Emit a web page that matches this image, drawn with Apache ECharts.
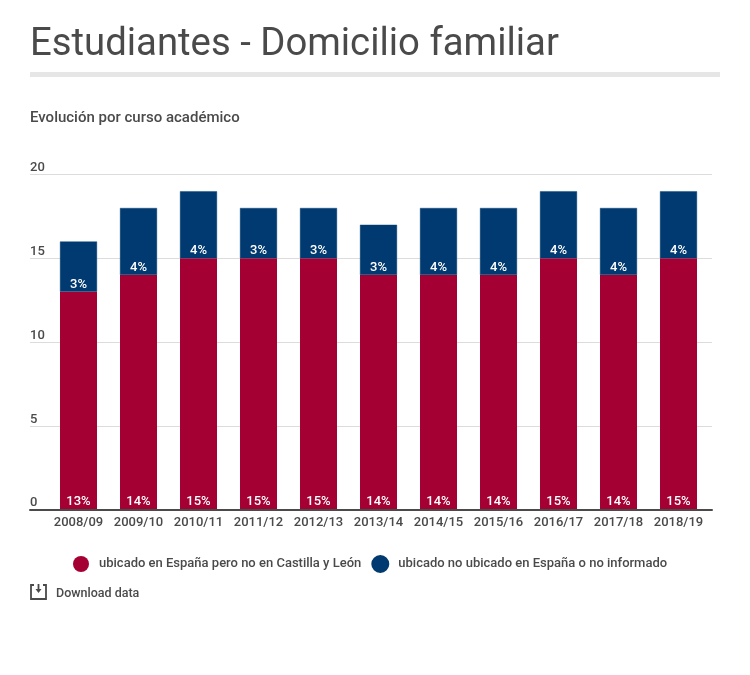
<!DOCTYPE html>
<html><head><meta charset="utf-8">
<style>html,body{margin:0;padding:0;background:#fff}#c{width:750px;height:675px}</style>
<script src="https://cdn.jsdelivr.net/npm/echarts@6/dist/echarts.min.js"></script>
</head><body><div id="c"></div>
<script>
const categories = ['2008/09','2009/10','2010/11','2011/12','2012/13','2013/14','2014/15','2015/16','2016/17','2017/18','2018/19'];
const ubicadoEspana = [13,14,15,15,15,14,14,14,15,14,15];
const ubicadoNoInformado = [3,4,4,3,3,3,4,4,4,4,4];
const yTicks = {min:0,max:20,interval:5};
const titleText = 'Estudiantes - Domicilio familiar';
const subtitleText = 'Evolución por curso académico';
const seriesNames = ['ubicado en España pero no en Castilla y León','ubicado no ubicado en España o no informado'];
const FONT = 'Roboto', TXT = '#4a4a4a';
const label = {show:true,position:'insideBottom',distance:1,color:'#fff',fontFamily:FONT,fontSize:13,fontWeight:500,formatter:p=>p.value+'%'};
const chart = echarts.init(document.getElementById('c'),null,{renderer:'canvas'});
chart.setOption({
  animation:false,
  backgroundColor:'#fff',
  textStyle:{fontFamily:FONT},
  title:[
    {text:titleText,left:30,top:26,padding:0,textStyle:{fontFamily:FONT,fontSize:38.3,fontWeight:400,color:TXT}},
    {text:subtitleText,left:30,top:111,padding:0,textStyle:{fontFamily:FONT,fontSize:15,fontWeight:500,color:TXT}}
  ],
  legend:{left:73,top:555,padding:0,itemWidth:16,itemHeight:16,itemGap:10,icon:'circle',
    textStyle:{fontFamily:FONT,fontSize:13,fontWeight:500,color:TXT,padding:[1,0,0,5]}},
  grid:[
    {left:48.5,right:41.5,top:174.5,height:335},
    {left:30,right:38,top:174.5,height:335}
  ],
  xAxis:[
    {type:'category',gridIndex:0,data:categories,axisLine:{show:false},axisTick:{show:false},
      axisLabel:{color:TXT,fontFamily:FONT,fontSize:13,fontWeight:500,margin:6.5,interval:0}},
    {type:'value',gridIndex:1,min:0,max:1,axisLine:{show:true,onZero:false,lineStyle:{color:TXT,width:2}},axisTick:{show:false},axisLabel:{show:false},splitLine:{show:false},z:5}
  ],
  yAxis:[
    {type:'value',gridIndex:0,min:yTicks.min,max:yTicks.max,interval:yTicks.interval,axisLine:{show:false},axisTick:{show:false},axisLabel:{show:false},splitLine:{show:false}},
    {type:'value',gridIndex:1,min:yTicks.min,max:yTicks.max,interval:yTicks.interval,axisLine:{show:false},axisTick:{show:false},
      axisLabel:{inside:true,margin:0,verticalAlign:'bottom',lineHeight:13,color:TXT,fontFamily:FONT,fontSize:13,fontWeight:500},
      splitLine:{show:true,lineStyle:{color:'#dcdcdc',width:1}}}
  ],
  series:[
    {name:seriesNames[0],type:'bar',stack:'t',xAxisIndex:0,yAxisIndex:0,barWidth:37,data:ubicadoEspana,itemStyle:{color:'#a50034'},label,z:3},
    {name:seriesNames[1],type:'bar',stack:'t',xAxisIndex:0,yAxisIndex:0,barWidth:37,data:ubicadoNoInformado,itemStyle:{color:'#003a70',borderColor:'#003a70',borderWidth:0.4},label,z:3}
  ],
  graphic:[
    {type:'rect',shape:{x:30,y:72,width:690,height:5},style:{fill:'#e6e6e6'},silent:true},
    {type:'polyline',shape:{points:[[34,585],[31,585],[31,599],[46,599],[46,585],[43,585]]},style:{fill:null,stroke:TXT,lineWidth:1.8},silent:true},
    {type:'polyline',shape:{points:[[38.5,584],[38.5,590]]},style:{fill:null,stroke:TXT,lineWidth:1.8},silent:true},
    {type:'polygon',shape:{points:[[35.5,589],[41.5,589],[38.5,593]]},style:{fill:TXT},silent:true},
    {type:'text',style:{x:56,y:594,text:'Download data',font:'500 12.5px Roboto',fill:TXT,verticalAlign:'middle'},silent:true}
  ]
});
</script></body></html>
